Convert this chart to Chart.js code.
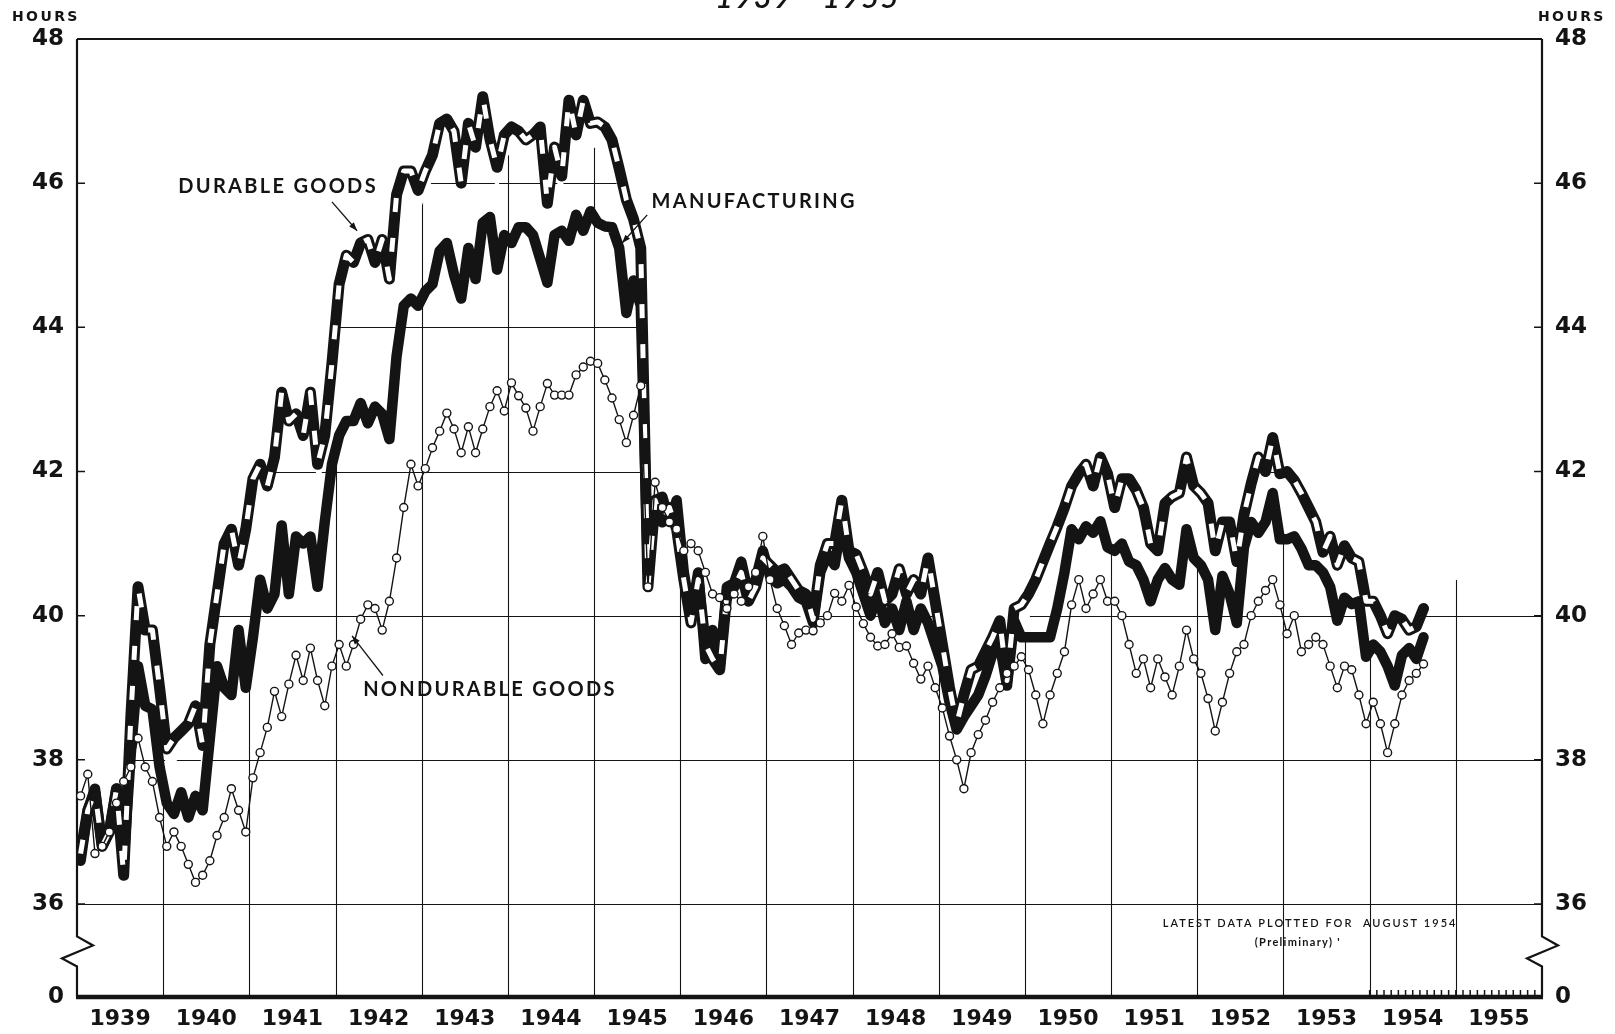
<!DOCTYPE html>
<html>
<head>
<meta charset="utf-8">
<title>Average weekly hours, manufacturing 1939 - 1955</title>
<script src="https://cdn.jsdelivr.net/npm/chart.js@4.4.1/dist/chart.umd.min.js"></script>
<style>
  html, body { margin: 0; padding: 0; background: #fff; }
  #wrap { width: 1615px; height: 1034px; }
</style>
</head>
<body>
<div id="wrap"><canvas id="hoursChart" width="1615" height="1034"></canvas></div>
<script>
// Year labels along the bottom axis (each year = 12 monthly points)
const years = [1939, 1940, 1941, 1942, 1943, 1944, 1945, 1946, 1947,
               1948, 1949, 1950, 1951, 1952, 1953, 1954, 1955];
// Hour gridlines; the bottom edge sits below a scale break and reads "0"
const hourTicks = [36, 38, 40, 42, 44, 46, 48];
const axisFloor = 34.71;

// Average weekly hours, monthly Jan 1939 - Aug 1954 (one row per year)
const manufacturing = [
  36.6, 37.3, 37.6, 36.8, 37.0, 37.6, 36.6, 38.1, 39.3, 38.75, 38.7, 37.9,
  37.4, 37.25, 37.55, 37.2, 37.5, 37.3, 38.3, 39.3, 39.0, 38.9, 39.8, 39.0,
  39.7, 40.5, 40.1, 40.3, 41.25, 40.3, 41.1, 41.0, 41.1, 40.4, 41.3, 42.1,
  42.5, 42.7, 42.7, 42.95, 42.67, 42.9, 42.8, 42.45, 43.6, 44.3, 44.4, 44.3,
  44.5, 44.6, 45.06, 45.17, 44.73, 44.4, 45.1, 44.67, 45.45, 45.53, 44.8, 45.28,
  45.17, 45.39, 45.39, 45.28, 44.95, 44.62, 45.28, 45.34, 45.2, 45.56, 45.34, 45.61,
  45.45, 45.4, 45.39, 45.1, 44.2, 44.65, 44.3, 40.6, 41.6, 41.65, 41.3, 41.6,
  40.6, 40.0, 40.6, 39.4, 39.8, 39.3, 40.4, 40.45, 40.75, 40.3, 40.5, 40.9,
  40.55, 40.45, 40.5, 40.4, 40.25, 40.2, 39.9, 40.6, 40.85, 40.7, 41.3, 40.8,
  40.6, 40.3, 40.0, 40.3, 39.9, 40.1, 39.8, 40.2, 39.8, 40.1, 39.9, 39.6,
  39.3, 38.8, 38.42, 38.6, 38.75, 38.9, 39.16, 39.48, 39.6, 39.03, 39.93, 39.7,
  39.7, 39.7, 39.7, 39.7, 40.1, 40.6, 41.2, 41.06, 41.24, 41.15, 41.31, 40.95,
  40.9, 41.0, 40.75, 40.7, 40.5, 40.2, 40.5, 40.66, 40.5, 40.43, 41.2, 40.8,
  40.7, 40.5, 39.8, 40.55, 40.3, 39.9, 40.95, 41.3, 41.15, 41.3, 41.7, 41.06,
  41.06, 41.1, 40.93, 40.7, 40.7, 40.6, 40.4, 39.93, 40.25, 40.16, 40.2, 39.43,
  39.6, 39.5, 39.3, 39.03, 39.45, 39.55, 39.4, 39.7
];
const durable = [
  36.7, 37.3, 37.55, 36.8, 37.0, 37.6, 36.4, 38.6, 40.4, 39.8, 39.8, 39.0,
  38.15, 38.3, 38.4, 38.5, 38.75, 38.2, 39.6, 40.3, 41.0, 41.2, 40.7, 41.2,
  41.9, 42.1, 41.8, 42.2, 43.1, 42.7, 42.8, 42.5, 43.1, 42.1, 42.5, 43.5,
  44.6, 45.0, 44.9, 45.17, 45.22, 44.9, 45.22, 44.67, 45.84, 46.17, 46.17, 45.9,
  46.17, 46.39, 46.83, 46.89, 46.72, 46.0, 46.83, 46.5, 47.2, 46.61, 46.22, 46.67,
  46.78, 46.72, 46.6, 46.67, 46.78, 45.72, 46.5, 46.1, 47.15, 46.67, 47.15, 46.83,
  46.85, 46.78, 46.6, 46.2, 45.77, 45.5, 45.1, 40.4, 41.6, 41.3, 41.5, 41.2,
  40.5, 39.9, 40.5, 39.6, 39.4, 39.25, 40.3, 40.4, 40.6, 40.2, 40.4, 40.8,
  40.7, 40.6, 40.65, 40.5, 40.35, 40.3, 39.95, 40.7, 41.0, 41.0, 41.6, 40.9,
  40.85, 40.6, 40.3, 40.6, 40.2, 40.3, 40.65, 40.3, 40.5, 40.3, 40.8, 40.2,
  39.6, 39.0, 38.5, 38.9, 39.25, 39.3, 39.5, 39.7, 39.93, 39.1, 40.1, 40.15,
  40.3, 40.5, 40.75, 41.0, 41.24, 41.5, 41.8, 41.97, 42.1, 41.8, 42.2, 41.97,
  41.5, 41.9, 41.9, 41.74, 41.5, 41.0, 40.9, 41.56, 41.65, 41.7, 42.2, 41.8,
  41.7, 41.56, 40.9, 41.3, 41.3, 40.75, 41.4, 41.83, 42.2, 42.0, 42.47, 41.97,
  42.0, 41.88, 41.7, 41.5, 41.3, 40.88, 41.1, 40.7, 40.97, 40.8, 40.75, 40.2,
  40.2, 40.0, 39.75, 40.0, 39.95, 39.8, 39.85, 40.1
];
const nondurable = [
  37.5, 37.8, 36.7, 36.8, 37.0, 37.4, 37.7, 37.9, 38.3, 37.9, 37.7, 37.2,
  36.8, 37.0, 36.8, 36.55, 36.3, 36.4, 36.6, 36.95, 37.2, 37.6, 37.3, 37.0,
  37.75, 38.1, 38.45, 38.95, 38.6, 39.05, 39.45, 39.1, 39.55, 39.1, 38.75, 39.3,
  39.6, 39.3, 39.6, 39.95, 40.15, 40.1, 39.8, 40.2, 40.8, 41.5, 42.1, 41.8,
  42.04, 42.33, 42.56, 42.81, 42.59, 42.26, 42.62, 42.26, 42.59, 42.9, 43.12, 42.84,
  43.23, 43.05, 42.88, 42.56, 42.9, 43.22, 43.06, 43.06, 43.06, 43.34, 43.45, 43.53,
  43.5, 43.27, 43.02, 42.72, 42.4, 42.78, 43.19, 40.4, 41.85, 41.5, 41.3, 41.2,
  40.9, 41.0, 40.9, 40.6, 40.3, 40.25, 40.1, 40.3, 40.2, 40.4, 40.6, 41.1,
  40.5, 40.1, 39.86, 39.6, 39.76, 39.8, 39.79, 39.9, 40.0, 40.31, 40.2, 40.42,
  40.12, 39.89, 39.7, 39.58, 39.6, 39.75, 39.56, 39.58, 39.34, 39.12, 39.3, 39.0,
  38.72, 38.33, 38.0, 37.6, 38.1, 38.35, 38.55, 38.8, 39.0, 39.2, 39.3, 39.43,
  39.25, 38.9, 38.5, 38.9, 39.2, 39.5, 40.15, 40.5, 40.1, 40.3, 40.5, 40.2,
  40.2, 40.0, 39.6, 39.2, 39.4, 39.0, 39.4, 39.15, 38.9, 39.3, 39.8, 39.4,
  39.2, 38.85, 38.4, 38.8, 39.2, 39.5, 39.6, 40.0, 40.2, 40.35, 40.5, 40.15,
  39.75, 40.0, 39.5, 39.6, 39.7, 39.6, 39.3, 39.0, 39.3, 39.25, 38.9, 38.5,
  38.8, 38.5, 38.1, 38.5, 38.9, 39.1, 39.2, 39.33
];

const INK = '#141414';
const FONT = 'Lato, "DejaVu Sans", sans-serif';
const NUMFONT = '"DejaVu Sans", sans-serif';

// month i is plotted at the middle of its month on a 0..204 month axis
const toPoints = arr => arr.map((v, i) => ({ x: i + 0.5, y: v }));

// Gridlines only show under the curves, like the printed chart
const paperGrid = {
  id: 'paperGrid',
  beforeDatasetsDraw(chart) {
    const { ctx, chartArea: a, scales: { x, y } } = chart;
    const ceiling = manufacturing.map((m, i) => Math.max(m, durable[i], nondurable[i]) - 0.35);
    ctx.save();
    ctx.beginPath();
    ctx.moveTo(a.left, a.bottom);
    ctx.lineTo(a.left, y.getPixelForValue(ceiling[0]));
    ceiling.forEach((v, i) => ctx.lineTo(x.getPixelForValue(i + 0.5), y.getPixelForValue(v)));
    ctx.lineTo(x.getPixelForValue(ceiling.length), y.getPixelForValue(40.5));
    ctx.lineTo(a.right, y.getPixelForValue(40.5));
    ctx.lineTo(a.right, a.bottom);
    ctx.closePath();
    ctx.clip();

    ctx.strokeStyle = INK;
    ctx.lineWidth = 1.1;
    ctx.beginPath();
    hourTicks.slice(0, -1).forEach(v => {
      const py = Math.round(y.getPixelForValue(v)) + 0.5;
      ctx.moveTo(a.left, py);
      ctx.lineTo(a.right, py);
    });
    ctx.stroke();

    // year lines stop near the manufacturing curve, except in the war years
    ctx.beginPath();
    years.forEach((yr, k) => {
      if (k === 0) return;
      const m = k * 12;
      const atEdge = manufacturing[m] === undefined ? 40.5
        : (manufacturing[m - 1] + manufacturing[m]) / 2;
      const topVal = yr >= 1943 && yr <= 1945 ? 47 : atEdge;
      const px = Math.round(x.getPixelForValue(m)) + 0.5;
      ctx.moveTo(px, y.getPixelForValue(topVal));
      ctx.lineTo(px, a.bottom);
    });
    ctx.stroke();
    ctx.restore();
  }
};

// Border, scale breaks, inside ticks and the month ticks for 1954-55
const frame = {
  id: 'frame',
  beforeDatasetsDraw(chart) {
    const { ctx, chartArea: a, scales: { x, y } } = chart;
    const brk = y.getPixelForValue(35.55);
    ctx.save();
    ctx.strokeStyle = INK;
    ctx.lineWidth = 2.2;
    ctx.beginPath();
    ctx.moveTo(a.left, a.top);
    ctx.lineTo(a.right, a.top);
    ctx.stroke();

    [a.left, a.right].forEach(px => {
      ctx.beginPath();
      ctx.moveTo(px, a.top);
      ctx.lineTo(px, brk);
      ctx.lineTo(px + 16, brk + 9);
      ctx.lineTo(px - 15, brk + 22);
      ctx.lineTo(px, brk + 30);
      ctx.lineTo(px, a.bottom);
      ctx.stroke();
    });

    ctx.lineWidth = 1.5;
    ctx.beginPath();
    hourTicks.forEach(v => {
      const py = y.getPixelForValue(v);
      ctx.moveTo(a.left, py);
      ctx.lineTo(a.left + 8, py);
      ctx.moveTo(a.right, py);
      ctx.lineTo(a.right - 8, py);
    });
    for (let m = 180; m <= 204; m++) {
      const px = x.getPixelForValue(m);
      ctx.moveTo(px, a.bottom);
      ctx.lineTo(px, a.bottom - 7);
    }
    ctx.stroke();

    ctx.lineWidth = 4.5;
    ctx.beginPath();
    ctx.moveTo(a.left - 1, a.bottom);
    ctx.lineTo(a.right + 1, a.bottom);
    ctx.stroke();
    ctx.restore();
  }
};

// Series names, arrows, footnote and headings
const notes = {
  id: 'notes',
  afterDatasetsDraw(chart) {
    const { ctx, scales: { x, y } } = chart;
    const px = m => x.getPixelForValue(m);
    const py = h => y.getPixelForValue(h);

    const arrow = (m1, h1, m2, h2) => {
      const x1 = px(m1), y1 = py(h1), x2 = px(m2), y2 = py(h2);
      const ang = Math.atan2(y2 - y1, x2 - x1);
      ctx.lineWidth = 1.3;
      ctx.beginPath();
      ctx.moveTo(x1, y1);
      ctx.lineTo(x2, y2);
      ctx.stroke();
      ctx.beginPath();
      ctx.moveTo(x2, y2);
      ctx.lineTo(x2 - 9 * Math.cos(ang - 0.35), y2 - 9 * Math.sin(ang - 0.35));
      ctx.lineTo(x2 - 9 * Math.cos(ang + 0.35), y2 - 9 * Math.sin(ang + 0.35));
      ctx.closePath();
      ctx.fill();
    };

    ctx.save();
    ctx.fillStyle = INK;
    ctx.strokeStyle = INK;
    ctx.textAlign = 'center';
    ctx.textBaseline = 'middle';

    ctx.font = 'bold 20px ' + FONT;
    ctx.letterSpacing = '2.3px';
    ctx.fillText('DURABLE GOODS', px(28.0), py(45.96));
    ctx.fillText('MANUFACTURING', px(94.3), py(45.75));
    ctx.fillText('NONDURABLE GOODS', px(57.5), py(38.97));

    arrow(35.5, 45.74, 39.0, 45.34);
    arrow(79.4, 45.56, 75.9, 45.17);
    arrow(42.6, 39.17, 38.3, 39.72);

    ctx.font = '600 11px ' + FONT;
    ctx.letterSpacing = '2px';
    ctx.fillText('LATEST DATA PLOTTED FOR  AUGUST 1954', px(171.7), py(35.73));
    ctx.font = 'bold 11px ' + FONT;
    ctx.letterSpacing = '1.3px';
    ctx.fillText("(Preliminary) '", px(170.0), py(35.46));

    ctx.font = 'bold 14px ' + NUMFONT;
    ctx.letterSpacing = '2.4px';
    ctx.textAlign = 'left';
    ctx.fillText('HOURS', 12, 17);
    ctx.fillText('HOURS', 1538, 17);

    ctx.font = 'italic 600 31px ' + FONT;
    ctx.letterSpacing = '1.5px';
    ctx.textAlign = 'center';
    ctx.textBaseline = 'alphabetic';
    ctx.fillText('1939 - 1955', chart.width / 2, 8);
    ctx.restore();
  }
};

const hourScale = (position, width) => ({
  type: 'linear',
  position,
  min: axisFloor,
  max: 48,
  afterFit: s => { s.width = width; },
  afterBuildTicks: s => { s.ticks = [axisFloor, ...hourTicks].map(v => ({ value: v })); },
  grid: { display: false, drawTicks: false },
  border: { display: false },
  ticks: {
    color: INK,
    padding: 13,
    font: { family: NUMFONT, weight: 'bold', size: 23 },
    callback: v => (v < 35 ? '0' : String(v))
  }
});

new Chart(document.getElementById('hoursChart'), {
  type: 'line',
  data: {
    datasets: [
      {
        label: 'Nondurable goods',
        data: toPoints(nondurable),
        borderColor: INK,
        borderWidth: 1.4,
        pointRadius: 4,
        pointBackgroundColor: '#fff',
        pointBorderColor: INK,
        pointBorderWidth: 1.4,
        order: 0
      },
      {
        label: 'Durable goods',
        data: toPoints(durable),
        borderColor: '#fff',
        borderWidth: 5,
        borderDash: [14, 26],
        borderJoinStyle: 'round',
        pointRadius: 0,
        order: 1
      },
      {
        label: 'Durable goods (edge)',
        data: toPoints(durable),
        borderColor: INK,
        borderWidth: 11,
        borderJoinStyle: 'round',
        borderCapStyle: 'round',
        pointRadius: 0,
        order: 2
      },
      {
        label: 'Manufacturing',
        data: toPoints(manufacturing),
        borderColor: INK,
        borderWidth: 10.5,
        borderJoinStyle: 'round',
        borderCapStyle: 'round',
        pointRadius: 0,
        order: 3
      }
    ]
  },
  options: {
    responsive: false,
    animation: false,
    devicePixelRatio: 1,
    layout: { padding: { top: 39 } },
    elements: { line: { tension: 0 } },
    plugins: { legend: { display: false }, tooltip: { enabled: false } },
    scales: {
      x: {
        type: 'linear',
        min: 0,
        max: 204,
        afterFit: s => { s.height = 37; },
        afterBuildTicks: s => { s.ticks = years.map((yr, k) => ({ value: k * 12 + 6 })); },
        grid: { display: false, drawTicks: false },
        border: { display: false },
        ticks: {
          color: INK,
          padding: 9,
          autoSkip: false,
          maxRotation: 0,
          font: { family: NUMFONT, weight: 'bold', size: 22 },
          callback: (v, i) => String(years[i])
        }
      },
      y: hourScale('left', 77),
      y2: hourScale('right', 73)
    }
  },
  plugins: [paperGrid, frame, notes]
});
</script>
</body>
</html>
